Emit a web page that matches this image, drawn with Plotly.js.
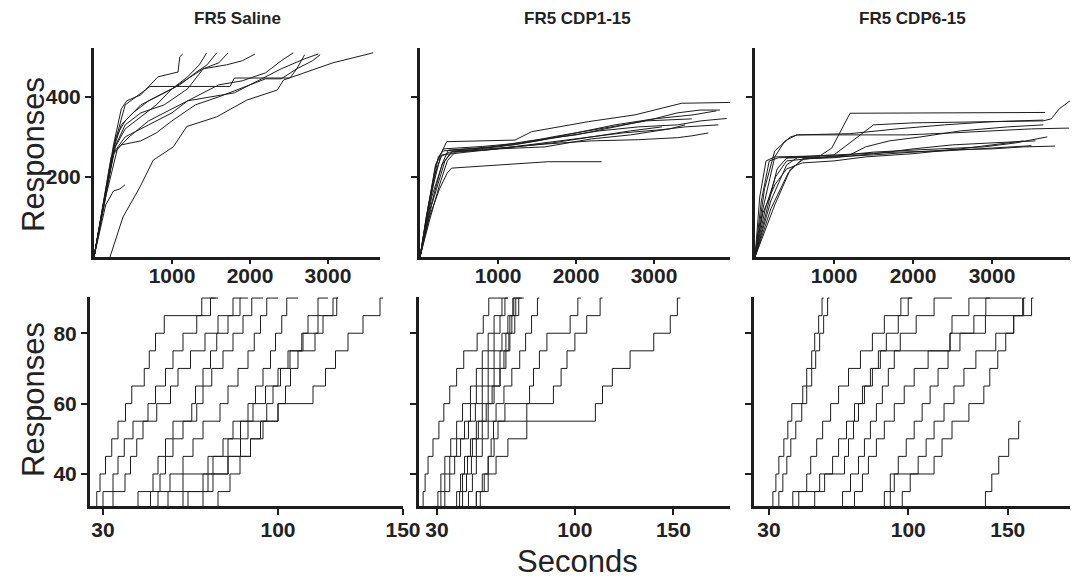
<!DOCTYPE html>
<html>
<head>
<meta charset="utf-8">
<script src="https://cdn.plot.ly/plotly-3.0.1.min.js"></script>
<style>html,body{margin:0;padding:0;background:#fff;}#chart{width:1077px;height:579px;}</style>
</head>
<body>
<div id="chart"></div>
<script>
// ---------- DATA ----------
// Panel titles and axis tick values
const panelTitles = ["FR5 Saline", "FR5 CDP1-15", "FR5 CDP6-15"];
const topXTicks = [1000, 2000, 3000];
const topYTicks = [200, 400];
const lowXTicks = [30, 100, 150];
const lowYTicks = [40, 60, 80];
// Response levels (FR5 steps) used by the lower (first 90 responses) panels
const levels = [30, 35, 40, 45, 50, 55, 60, 65, 70, 75, 80, 85, 90];

// Top row: whole session cumulative records (seconds, responses)
const salineTopT = [
  [0,120,250,350,420,600,820,1077,1100,1137],
  [0,150,280,400,600,800,1000,1200,1350,1445],
  [0,130,250,350,500,700,900,1100,1300,1450,1573],
  [0,150,260,400,600,800,1000,1200,1400,1600,1720],
  [0,140,280,400,600,900,1200,1400,1700,1900,2064],
  [0,150,300,450,700,1000,1300,1600,1900,2200,2400,2555],
  [0,120,250,400,700,1000,1200,1500,1800,2100,2400,2700,2876],
  [205,372,590,760,1017,1190,1573,1960,2350,2430,3064,3580],
  [0,150,250,330,397],
  [0,130,260,400,718,1744,1800,2513,2600,2700],
  [0,100,220,350,600,800,1000,1300,1600,2000,2200,2400,2600,2800,2900]
];
const salineTopR = [
  [0,130,280,370,390,405,450,462,500,507],
  [0,150,300,340,380,400,420,450,480,510],
  [0,140,270,330,360,390,410,430,460,480,510],
  [0,160,270,320,350,380,420,445,470,485,510],
  [0,150,280,330,360,380,420,470,480,490,507],
  [0,150,270,300,340,370,400,430,440,460,490,510],
  [0,130,260,300,330,360,390,400,410,440,470,495,507],
  [0,100,175,242,275,326,350,392,417,442,485,510],
  [0,130,165,170,180],
  [0,140,280,380,426,426,447,447,470,505],
  [0,110,250,280,290,310,340,380,400,430,445,445,470,490,505]
];
const cdp1TopT = [
  [0,100,200,342,1218,1432,2158,2756,3355,3974],
  [0,120,250,350,406,790,1100,1645,2329],
  [0,100,235,300,600,1000,1500,2000,2500,3000,3300,3590,3846],
  [0,150,300,363,700,1200,1800,2300,2800,3300,3600,3932],
  [0,130,280,400,900,1400,2000,2600,3100,3400,3825],
  [0,150,320,420,1000,1600,2200,2800,3300,3500,3697],
  [0,90,200,300,800,1300,1700,2300,2900,3483],
  [0,110,260,380,700,1400,2000,2600,3000,3500,3800],
  [0,120,250,350,450,1000,1600,2200,2700,3200,3400],
  [0,80,180,280,600,1100,1700,2200,2700,3100]
];
const cdp1TopR = [
  [0,120,230,288,292,313,338,355,384,386],
  [0,100,170,210,222,227,230,238,238],
  [0,110,251,265,270,275,290,310,330,345,360,367,367],
  [0,150,240,267,272,280,300,315,325,330,340,346],
  [0,120,230,262,268,280,295,310,318,325,330],
  [0,130,240,265,272,282,290,293,298,303,310],
  [0,110,230,270,276,285,300,320,340,345],
  [0,130,250,262,268,290,305,330,345,355,365],
  [0,90,180,240,262,270,275,295,305,320,330],
  [0,100,200,255,262,272,285,300,315,325]
];
const cdp6TopT = [
  [0,150,280,400,800,971,1100,1203,3671],
  [0,200,400,550,1000,1300,1500,2000,2600,3200,3646,3750,3850,3987],
  [0,100,250,380,528,1920,2500,3000,3500,3975],
  [0,200,420,600,1000,1500,2000,2500,3000,3400,3797],
  [0,120,250,450,540,1200,1800,2400,3000,3650],
  [0,80,180,300,900,1200,1400,1700,2100,2600,3200,3650],
  [0,250,450,620,1000,1600,2000,2500,3000,3550],
  [0,100,250,400,600,1000,1400,2000,2600,3100,3400],
  [0,130,260,400,800,1500,2100,2900,3300,3700],
  [0,60,140,250,700,1300,1800,2400,3000,3500]
];
const cdp6TopR = [
  [0,120,220,247,250,272,320,359,361],
  [0,140,230,250,255,300,330,335,337,338,340,345,370,390],
  [0,120,250,290,305,305,310,315,320,322],
  [0,120,210,245,250,255,262,268,270,275,277],
  [0,170,265,300,305,308,320,330,338,342],
  [0,140,240,248,250,255,275,290,300,315,325,330],
  [0,130,220,245,248,260,270,280,285,290],
  [0,110,180,220,235,240,250,258,270,283,290],
  [0,120,200,240,248,262,268,275,285,300],
  [0,150,240,250,252,258,262,265,272,278]
];

// Bottom row: time (s) at which each response level (30..90) was reached; end = last time shown
const salineLowT = [
  [25,27.5,28.8,31,33.5,36,39,41.5,46.5,48.5,51,54.5,69.5],
  [27,30,34,36,38.5,42,48,51,55,58,62,67.5,73],
  [30,34,38.8,41,43.5,46,51.5,57,60,65,70.8,76,82],
  [36,44,50,52,55,58,65.5,67,70,73,75.5,80,84.8],
  [44,49,52.8,55,58,62,67.5,70,73.5,78,82,86,89.5],
  [47,52,56.8,62,66,70,76.8,80,84,88,90.5,93,95.5],
  [50,56,62,72,78,82,88,91,94,97,99,101.5,103.5],
  [58,64,72,80,85,88,95.5,98,101,104,109.5,112,116],
  [65,70,74,80,89,94,100,103,105,108,114.8,118,122],
  [70,76,80.8,84.8,89,93,100,114,119,123,128,134,140.8],
  [55,62,70,74,80,85,90,95,100,104.8,110,116,123.5]
];
const salineLowEnd = [75,76,85,88,94,100,108,120,124,142,124];
const cdp1LowT = [
  [22,23,24,25.5,28,31,33.5,36.5,40,43.6,50.4,53.5,56.3],
  [29,30.5,32,34,37,40,43,47,50,53,56,59,63],
  [30,32,34,36.5,40,44,47,50,53,56,59,62,64.5],
  [32,34,36.5,39,42,46,49.5,53,56,59,63,66,68.5],
  [38,40,42,44,47,50,53,56,59,62,65,67,69],
  [40,41.5,43,45.5,48,51,55,58,62,64,66.5,68,70],
  [41,43,45,47.5,50,53,56,59,62,65,67,69.5,71.5],
  [44,46,48,50,53,56,60,64,68,72,75,78,81],
  [47,50,53,56,59,61,64.5,77,79,82,85.8,97.6,101.5],
  [50,52,54,56,57.5,58.7,75.6,89.1,93,96,100,106,112.8],
  [47,50,56,60,66,75.6,110.4,114,119,128,140,148.4,152]
];
const cdp1LowEnd = [63,66,66,70,72,74,73,82,103,114,153.5];
const cdp6LowT = [
  [30,32,33.5,35,37.5,39.5,41.5,47,49,51.5,53,55,56.7],
  [33,35,37,39,41,43.5,46.5,49,51.5,53.5,55.5,57.5,59.5],
  [40.5,42,49,51,54,57,61,65,70,76,82,88,96.3],
  [41.3,45,55.5,68,70,72.5,75,78,82,85,89,95,100],
  [49.7,53,58,62,65,69,73,77,81,86,96,104,113],
  [64.7,67,71,75,78,81,84,87,90,93,121,122,130.5],
  [70.5,73,77,80,84,88,93,98,103,110,121,138.8,158],
  [85,88,91,95,99,103,107,111,115,120,126,133,139],
  [88,91,93,113,117,122,130.5,138,141,145,149,153,157.5],
  [93.7,97,101,105,109,113,118,123,128,134,144,153,162],
  [136,138.8,142,145.5,150.5,155.5]
];
const cdp6LowEnd = [57.5,60.5,102,102,122,157,159,141,158,163,156.5];

// ---------- BUILD ----------
const FONT = "Liberation Sans, Arial, Helvetica, sans-serif";
const INK = "#1d1d1d";
const traces = [];
function addTop(Ts, Rs, n) {
  for (let i = 0; i < Ts.length; i++) {
    traces.push({x: Ts[i], y: Rs[i], xaxis: 'x' + n, yaxis: 'y' + n, type: 'scatter', mode: 'lines',
      line: {color: INK, width: 1, shape: 'linear'}, hoverinfo: 'skip'});
  }
}
function addLow(Ts, ends, n) {
  for (let i = 0; i < Ts.length; i++) {
    const t = Ts[i];
    const y = levels.slice(0, t.length);
    traces.push({x: t.concat([ends[i]]), y: y.concat([y[y.length - 1]]), xaxis: 'x' + n, yaxis: 'y' + n,
      type: 'scatter', mode: 'lines', line: {color: INK, width: 1, shape: 'hv'}, hoverinfo: 'skip'});
  }
}
addTop(salineTopT, salineTopR, '');
addTop(cdp1TopT, cdp1TopR, 2);
addTop(cdp6TopT, cdp6TopR, 3);
addLow(salineLowT, salineLowEnd, 4);
addLow(cdp1LowT, cdp1LowEnd, 5);
addLow(cdp6LowT, cdp6LowEnd, 6);

const W = 1077, H = 579;
const px = v => v / W, py = v => 1 - v / H;
function ax(extra) {
  return Object.assign({
    showline: true, linewidth: 3, linecolor: INK, mirror: false,
    ticks: 'outside', ticklen: 6, tickwidth: 2, tickcolor: INK,
    showgrid: false, zeroline: false, fixedrange: true,
    tickfont: {family: FONT, size: 21, color: '#222', weight: 'bold'},
    tickmode: 'array'
  }, extra);
}
const topY = [py(257), py(48)], lowY = [py(506), py(297)];
const topX = {tickvals: topXTicks, ticklen: 4, ticklabelstandoff: -6};
const lowX = {tickvals: lowXTicks, ticklabelstandoff: -3};
const layout = {
  width: W, height: H, margin: {l: 0, r: 0, t: 0, b: 0},
  paper_bgcolor: '#fff', plot_bgcolor: '#fff', showlegend: false,
  xaxis:  ax(Object.assign({domain: [px(94), px(380)], range: [0, 3667], anchor: 'y'}, topX)),
  yaxis:  ax({domain: topY, range: [0, 522], tickvals: topYTicks, anchor: 'x'}),
  xaxis2: ax(Object.assign({domain: [px(420), px(730)], range: [0, 3974], anchor: 'y2'}, topX)),
  yaxis2: ax({domain: topY, range: [0, 522], tickvals: topYTicks, showticklabels: false, anchor: 'x2'}),
  xaxis3: ax(Object.assign({domain: [px(755), px(1070)], range: [0, 3987], anchor: 'y3'}, topX)),
  yaxis3: ax({domain: topY, range: [0, 522], tickvals: topYTicks, showticklabels: false, anchor: 'x3'}),
  xaxis4: ax(Object.assign({domain: [px(90), px(403)], range: [24.8, 150], anchor: 'y4'}, lowX)),
  yaxis4: ax({domain: lowY, range: [30.9, 90.3], tickvals: lowYTicks, anchor: 'x4'}),
  xaxis5: ax(Object.assign({domain: [px(419), px(730)], range: [20.9, 178.7], anchor: 'y5'}, lowX)),
  yaxis5: ax({domain: lowY, range: [30.9, 90.3], tickvals: lowYTicks, showticklabels: false, anchor: 'x5'}),
  xaxis6: ax(Object.assign({domain: [px(754), px(1070)], range: [22.5, 181.3], anchor: 'y6'}, lowX)),
  yaxis6: ax({domain: lowY, range: [30.9, 90.3], tickvals: lowYTicks, showticklabels: false, anchor: 'x6'}),
  annotations: [
    {text: panelTitles[0], x: px(237), y: py(19)},
    {text: panelTitles[1], x: px(577), y: py(19)},
    {text: panelTitles[2], x: px(912), y: py(19)}
  ].map(a => Object.assign(a, {xref: 'paper', yref: 'paper', showarrow: false, xanchor: 'center', yanchor: 'middle',
      font: {family: FONT, size: 17, color: '#222', weight: 'bold'}})).concat([
    {text: 'Responses', x: px(33), y: py(155), textangle: -90},
    {text: 'Responses', x: px(33), y: py(400), textangle: -90},
    {text: 'Seconds', x: px(577), y: py(561)}
  ].map(a => Object.assign(a, {xref: 'paper', yref: 'paper', showarrow: false, xanchor: 'center', yanchor: 'middle',
      font: {family: FONT, size: 31, color: '#222'}})))
};
Plotly.newPlot('chart', traces, layout, {staticPlot: true, displayModeBar: false});
</script>
</body>
</html>
